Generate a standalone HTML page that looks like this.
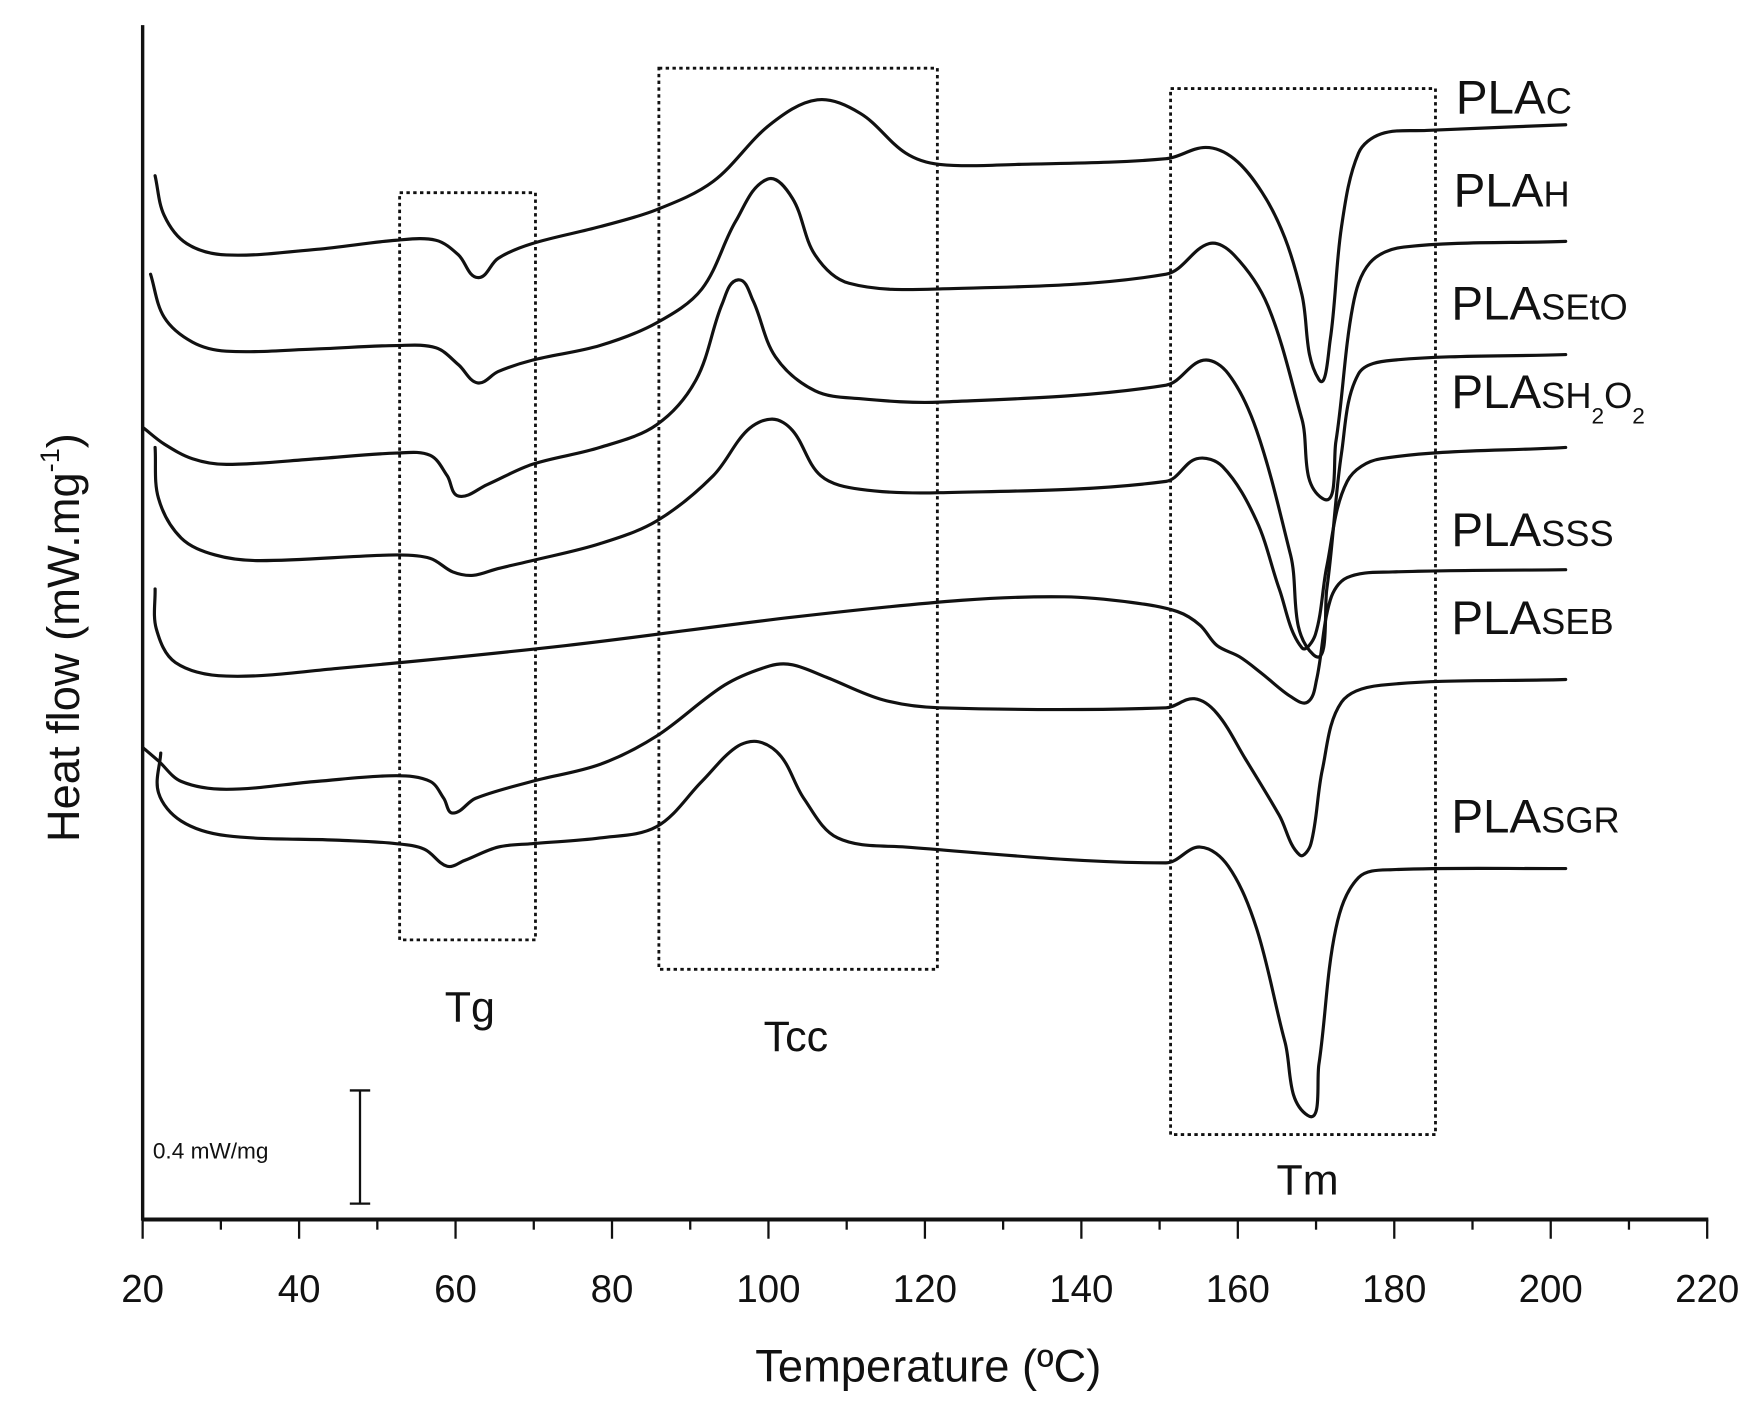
<!DOCTYPE html>
<html><head><meta charset="utf-8"><style>
html,body{margin:0;padding:0;background:#fff;}
svg{display:block;}
text{font-family:"Liberation Sans",Arial,sans-serif;fill:#111;}
</style></head><body>
<svg id="s" width="1757" height="1402" viewBox="0 0 1552 1238" xmlns="http://www.w3.org/2000/svg">
<rect width="1552" height="1238" fill="#fff"/>
<g id="axes" stroke="#111" fill="none">
<line x1="126" y1="22" x2="126" y2="1078" stroke-width="3"/>
<line x1="125" y1="1077" x2="1509" y2="1077" stroke-width="3.5"/>
</g>
<g id="ticks" stroke="#111" stroke-width="2"></g>
<g font-size="34" text-anchor="middle" id="tl"></g>
<text x="820" y="1220" font-size="40" text-anchor="middle">Temperature (ºC)</text>
<text transform="translate(70,563) rotate(-90)" font-size="40" text-anchor="middle">Heat flow (mW.mg<tspan font-size="24" dy="-18">-1</tspan><tspan dy="18">)</tspan></text>
<g stroke="#111" stroke-width="2.5" fill="none" stroke-dasharray="3,3">
<rect x="353" y="170" width="120" height="660"/>
<rect x="582" y="60" width="246" height="796"/>
<rect x="1034" y="78" width="234" height="924"/>
</g>
<text x="415" y="902" font-size="38" text-anchor="middle">Tg</text>
<text x="703" y="928" font-size="38" text-anchor="middle">Tcc</text>
<text x="1155" y="1055" font-size="38" text-anchor="middle">Tm</text>
<g stroke="#111" stroke-width="2" fill="none">
<line x1="318" y1="963" x2="318" y2="1063"/>
<line x1="309" y1="963" x2="327" y2="963"/>
<line x1="309" y1="1063" x2="327" y2="1063"/>
</g>
<text x="135" y="1023" font-size="20">0.4 mW/mg</text>
<g font-size="42">
<text x="1286" y="100">PLA<tspan font-size="32">C</tspan></text>
<text x="1284" y="182">PLA<tspan font-size="32">H</tspan></text>
<text x="1282" y="282">PLA<tspan font-size="32">SEtO</tspan></text>
<text x="1282" y="360">PLA<tspan font-size="32">SH</tspan><tspan font-size="20" dy="14">2</tspan><tspan font-size="32" dy="-14">O</tspan><tspan font-size="20" dy="14">2</tspan></text>
<text x="1282" y="482">PLA<tspan font-size="32">SSS</tspan></text>
<text x="1282" y="560">PLA<tspan font-size="32">SEB</tspan></text>
<text x="1282" y="735">PLA<tspan font-size="32">SGR</tspan></text>
</g>
<g id="curves" stroke="#111" stroke-width="2.8" fill="none" stroke-linejoin="round" stroke-linecap="round"></g>
</svg>
<script>
var NS="http://www.w3.org/2000/svg";
var tk=document.getElementById("ticks"),tl=document.getElementById("tl");
for(var i=0;i<=20;i++){var x=126+i*69.1;var l=document.createElementNS(NS,"line");
l.setAttribute("x1",x);l.setAttribute("x2",x);l.setAttribute("y1",1077);l.setAttribute("y2",i%2?1086:1094);tk.appendChild(l);
if(i%2==0){var t=document.createElementNS(NS,"text");t.setAttribute("x",x);t.setAttribute("y",1150);t.textContent=20+i*10;tl.appendChild(t);}}
var C=[
[[137,155],[145,190],[165,215],[200,225],[280,220],[350,212],[385,212],[405,225],[422,245],[440,228],[470,215],[530,200],[580,185],[630,160],[680,110],[722,88],[760,100],[800,135],[830,145],[900,145],[1030,140],[1065,130],[1090,140],[1115,170],[1135,210],[1150,260],[1165,335],[1175,300],[1185,200],[1200,135],[1220,118],[1260,115],[1383,110]],
[[133,242],[145,280],[170,302],[200,310],[280,308],[350,305],[385,307],[405,322],[422,338],[440,328],[470,318],[530,305],[580,285],[620,255],[650,195],[678,158],[700,175],[720,225],[750,250],[830,255],[1030,242],[1068,215],[1090,225],[1120,270],[1150,370],[1168,440],[1180,390],[1195,270],[1210,232],[1240,218],[1383,213]],
[[127,378],[145,392],[170,405],[200,410],[280,405],[350,400],[380,402],[395,420],[405,438],[430,428],[470,410],[530,395],[580,375],[615,335],[638,268],[652,247],[665,265],[685,315],[720,345],[760,352],[830,355],[1030,340],[1063,318],[1085,330],[1110,380],[1140,490],[1160,578],[1172,520],[1185,400],[1200,330],[1230,318],[1383,313]],
[[137,395],[140,440],[160,475],[190,490],[230,495],[350,490],[380,493],[400,505],[418,508],[440,502],[470,495],[530,480],[580,460],[630,420],[660,380],[682,370],[700,380],[725,420],[760,432],[830,435],[1030,425],[1057,405],[1080,412],[1110,460],[1130,520],[1150,572],[1162,560],[1172,500],[1190,425],[1220,405],[1383,395]],
[[137,520],[138,555],[155,585],[200,597],[300,590],[500,570],[700,545],[850,530],[940,527],[1000,532],[1040,540],[1060,552],[1075,570],[1095,580],[1115,595],[1140,615],[1155,620],[1163,600],[1175,530],[1190,510],[1230,505],[1383,503]],
[[126,660],[140,672],[160,690],[200,697],[280,690],[350,685],[380,690],[392,705],[400,718],[420,705],[470,690],[530,675],[580,650],[640,605],[680,588],[700,587],[730,598],[780,618],[830,625],[1030,625],[1055,617],[1075,630],[1100,670],[1130,720],[1148,755],[1158,745],[1168,680],[1185,620],[1220,605],[1383,600]],
[[142,665],[140,700],[160,725],[200,738],[300,742],[350,745],[375,750],[395,765],[410,760],[440,748],[470,745],[530,740],[580,730],[620,690],[650,660],[670,655],[690,668],[710,705],[740,740],[800,748],[1030,762],[1060,748],[1085,765],[1110,820],[1135,920],[1155,985],[1165,940],[1180,820],[1200,775],[1230,768],[1383,767]]];
var g=document.getElementById("curves");
function tan(p,i){var a=p[i-1]||p[i],c=p[i+1]||p[i];var dx=c[0]-a[0],dy=c[1]-a[1],L=Math.hypot(dx,dy)||1;return [dx/L,dy/L];}
C.forEach(function(p){var d="M"+p[0][0]+","+p[0][1];
for(var i=0;i<p.length-1;i++){var b=p[i],c=p[i+1];var L=Math.hypot(c[0]-b[0],c[1]-b[1])/3;
var t1=tan(p,i),t2=tan(p,i+1);
var c1=[b[0]+t1[0]*L,b[1]+t1[1]*L],c2=[c[0]-t2[0]*L,c[1]-t2[1]*L];
d+=" C"+c1[0].toFixed(1)+","+c1[1].toFixed(1)+" "+c2[0].toFixed(1)+","+c2[1].toFixed(1)+" "+c[0]+","+c[1];}
var pa=document.createElementNS(NS,"path");pa.setAttribute("d",d);g.appendChild(pa);});
</script>
</body></html>
